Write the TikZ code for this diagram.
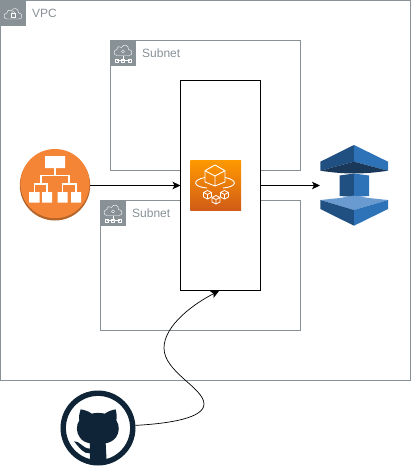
\documentclass[tikz,border=0pt]{standalone}
\usepackage{fontspec}
\setmainfont{Liberation Sans}
\usetikzlibrary{arrows.meta,calc}
\definecolor{groupgray}{HTML}{879196}
\definecolor{elborange}{HTML}{F58536}
\definecolor{elbdark}{HTML}{B5642A}
\definecolor{gitdark}{HTML}{0F2537}
\definecolor{dbleft}{HTML}{205081}
\definecolor{dbright}{HTML}{2E73B8}
\definecolor{dbunder}{HTML}{19385A}
\definecolor{dblight}{HTML}{6A9BD0}
\definecolor{svctop}{HTML}{FF9900}
\definecolor{svcbottom}{HTML}{D05C17}
\tikzset{
  groupbox/.style={draw=groupgray,line width=0.9pt,rectangle,inner sep=0pt,outer sep=0pt},
  tile/.style={fill=groupgray,draw=none,rectangle,inner sep=0pt,minimum width=25.5pt,minimum height=25.5pt},
  grouplabel/.style={text=groupgray,font=\fontsize{12}{14}\selectfont,inner sep=0pt,anchor=west},
  glyph/.style={draw=white,line width=0.4pt,fill=none,line join=round},
  iconline/.style={draw=white,line width=0.9pt,fill=none,line join=round},
  flow/.style={draw=black,line width=0.9pt,-{Stealth[length=8pt,width=7.5pt,inset=2pt]}},
  anchorbox/.style={inner sep=0pt,outer sep=0pt,rectangle,draw=none},
}
\newcommand{\cloudglyph}[2]{% x,y = top-left of 18x11 cloud
  \draw[glyph,shift={(#1,#2)}] (3,11) .. controls (-1,11) and (-1,5) .. (3,5) .. controls (3,2) and (6,1) .. (7.5,3)
    .. controls (9,-1) and (15,0) .. (14.5,5) .. controls (19,5) and (19,11) .. (15,11) -- cycle;
}
\begin{document}
\begin{tikzpicture}[x=1pt,y=-1pt]
\useasboundingbox (0,0) rectangle (412,467);
% VPC
\node[groupbox,minimum width=410pt,minimum height=380pt] (vpc) at (205.5,190.5) {};
\node[tile] (vpctile) at (12.75,12.75) {};
\node[grouplabel] (vpclabel) at (32,13.5) {VPC};
\cloudglyph{4}{8}
\draw[glyph] (11,13.5) rectangle (15.5,17);
\draw[glyph] (11.8,13.5) .. controls (11.8,10.8) and (14.7,10.8) .. (14.7,13.5);
% Subnet 1
\node[groupbox,minimum width=190pt,minimum height=130pt] (sub1) at (205.5,105.5) {};
\node[tile] (sub1tile) at (123.25,53.25) {};
\node[grouplabel] (sub1label) at (142,53.5) {Subnet};
\cloudglyph{114}{44.5}
\draw[glyph] (123,55.5) -- (123,60.5) (116.5,60.5) -- (129.5,60.5);
\draw[glyph] (123,51.5) circle (1.6);
\draw[glyph] (115,59) rectangle (118,62) (121.5,59) rectangle (124.5,62) (128,59) rectangle (131,62);
% Subnet 2
\node[groupbox,minimum width=200pt,minimum height=130pt] (sub2) at (200.5,265.5) {};
\node[tile] (sub2tile) at (113.25,213.25) {};
\node[grouplabel] (sub2label) at (132,213.5) {Subnet};
\cloudglyph{104}{204.5}
\draw[glyph] (113,215.5) -- (113,220.5) (106.5,220.5) -- (119.5,220.5);
\draw[glyph] (113,211.5) circle (1.6);
\draw[glyph] (105,219) rectangle (108,222) (111.5,219) rectangle (114.5,222) (118,219) rectangle (121,222);
% Central box
\node[draw=black,fill=white,line width=0.9pt,rectangle,inner sep=0pt,outer sep=0pt,minimum width=80pt,minimum height=210pt] (svc) at (220.5,185.5) {};
% Service icon
\node[anchorbox,minimum width=50.6pt,minimum height=50pt] (svcicon) at (215.6,185) {};
\shade[top color=svctop,bottom color=svcbottom] (190.3,160) rectangle (241,210);
\draw[iconline] (205,170.7) -- (215,165) -- (225,170.7) -- (225,182) -- (215,186) -- (205,182) -- cycle
  (205,170.7) -- (215,176) -- (225,170.7) (215,176) -- (215,186);
\draw[iconline] (205,177.5) .. controls (191.5,180) and (193,187) .. (207,188)
  (225,177.5) .. controls (238.5,180) and (237,187) .. (223,188);
\foreach \cx/\cy in {207.5/195,216/200,224.5/195}{
  \draw[draw=white,line width=0.8pt,line join=round] (\cx-4,\cy-2.5) -- (\cx,\cy-4.5) -- (\cx+4,\cy-2.5) -- (\cx+4,\cy+2) -- (\cx,\cy+4) -- (\cx-4,\cy+2) -- cycle
    (\cx-4,\cy-2.5) -- (\cx,\cy-0.5) -- (\cx+4,\cy-2.5) (\cx,\cy-0.5) -- (\cx,\cy+4);
}
% ELB
\node[anchorbox,circle,minimum size=70pt] (elb) at (55,185.5) {};
\fill[elbdark] (55,185.3) circle (35.2);
\fill[elborange] (55,183.6) circle (34.6);
\fill[white] (45,156) rectangle (65,168) (29,192) rectangle (39.5,202.5) (42,192) rectangle (52,202.5) (57.5,192) rectangle (67.5,202.5) (71,192) rectangle (81,202.5);
\draw[draw=white,line width=1.1pt] (55,168) -- (55,175.5) (41,184) -- (41,175.5) -- (69,175.5) -- (69,184)
  (34.5,192) -- (34.5,184) -- (47,184) -- (47,192) (62.5,192) -- (62.5,184) -- (76,184) -- (76,192);
% Database-like icon
\node[anchorbox,minimum width=68pt,minimum height=81pt] (db) at (354,185.5) {};
\fill[dbleft] (354,145) -- (320.3,161.7) -- (320.3,170.7) -- (354,161.7) -- cycle;
\fill[dbright] (354,145) -- (388,161.7) -- (388,170.7) -- (354,161.7) -- cycle;
\fill[dbunder] (320.3,170.7) -- (354,161.7) -- (388,170.7) .. controls (376,172.5) and (365,173.5) .. (354,173.5) .. controls (343,173.5) and (332,172.5) .. (320.3,170.7) -- cycle;
\fill[dbleft] (339.7,175.5) -- (354,173.5) -- (354,197) -- (339.7,196) -- cycle;
\fill[dbright] (369,175.5) -- (354,173.5) -- (354,197) -- (369,196) -- cycle;
\fill[dblight] (320.3,200) -- (339.7,198) -- (354,195.7) -- (369,198) -- (388,200) -- (354,210) -- cycle;
\fill[dbleft] (320.3,200) -- (354,210) -- (354,225.7) -- (320.3,209) -- cycle;
\fill[dbright] (388,200) -- (354,210) -- (354,225.7) -- (388,209) -- cycle;
% GitHub
\node[anchorbox,circle,minimum size=75pt] (gh) at (98,428) {};
\draw[gitdark,line width=5.4pt] (98,428) circle (34.8);
\begin{scope}[shift={(50,280)},x=0.3333pt,y=-0.3333pt]
  \fill[gitdark] (92,388) .. controls (105,390) and (118,395) .. (125,401) .. controls (135,398) and (152,398) .. (165,401)
    .. controls (172,395) and (185,390) .. (197,388) .. controls (200,400) and (201,412) .. (199,421)
    .. controls (209,435) and (209,458) .. (198,472) .. controls (190,483) and (178,488) .. (167,490)
    -- (170,545) -- (120,547) -- (120,490) .. controls (108,488) and (97,483) .. (90,473)
    .. controls (78,458) and (78,435) .. (88,421) .. controls (86,412) and (88,400) .. (92,388) -- cycle;
  \fill[gitdark] (72,484) .. controls (90,482) and (96,505) .. (120,506) -- (120,520) .. controls (100,522) and (90,505) .. (72,484) -- cycle;
\end{scope}
% Connectors
\coordinate (svcport) at (219,291);
\draw[flow] (elb.east) -- (elb.east -| svc.west);
\draw[flow] (svc.east) -- (svc.east -| db.west);
\draw[draw=black,line width=0.7pt,-{Stealth[length=8pt,width=7.5pt,inset=2pt]}] (gh.4) .. controls (170,423.5) and (204,418) .. (204,404)
  .. controls (204,388) and (164,372) .. (164,348) .. controls (164,325) and (195,303) .. (svcport);
\end{tikzpicture}
\end{document}
